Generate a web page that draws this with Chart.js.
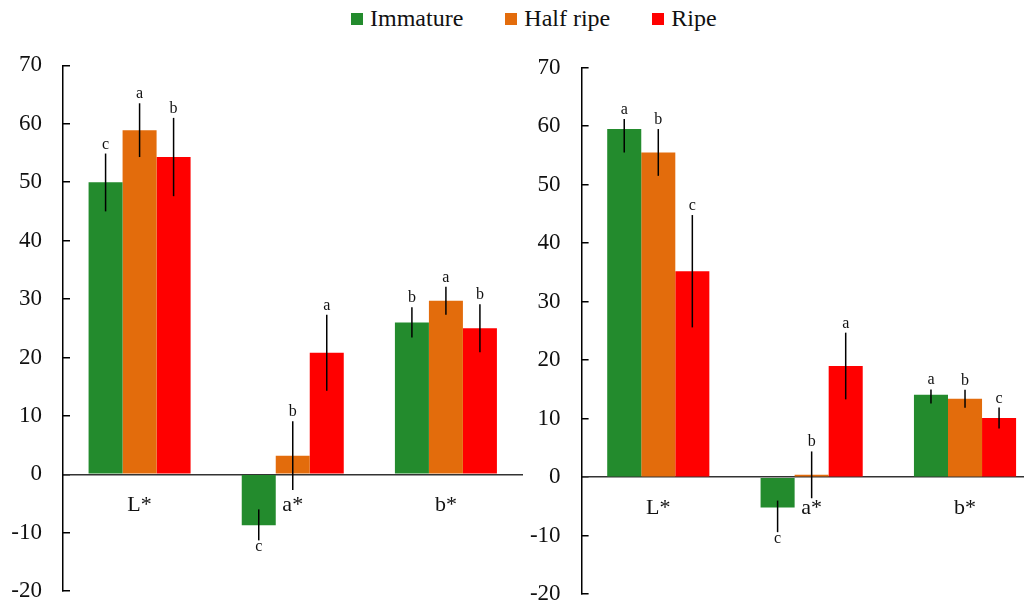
<!DOCTYPE html>
<html>
<head>
<meta charset="utf-8">
<script src="https://cdn.jsdelivr.net/npm/chart.js@4/dist/chart.umd.min.js"></script>
<style>
  html, body { margin:0; padding:0; background:#fff; width:1024px; height:604px; overflow:hidden; position:relative; }
  canvas { position:absolute; top:0; }
  #legend { position:absolute; left:351px; top:5px; display:flex; align-items:center; gap:42px;
            font-family:"Liberation Serif","Times New Roman",serif; font-size:24px; color:#111; }
  .item { display:flex; align-items:center; }
  .box { width:12px; height:12px; margin-right:7px; }
</style>
</head>
<body>
<div id="legend"></div>
<canvas id="left" width="540" height="633" style="left:0px"></canvas>
<canvas id="right" width="540" height="636" style="left:520px"></canvas>
<script>
// ---- data ----
const categories = ['L*', 'a*', 'b*'];
const seriesNames = ['Immature', 'Half ripe', 'Ripe'];
const seriesColors = ['#238B2D', '#E36C0C', '#FF0000'];
const yMin = -20, yMax = 70, yStep = 10;

// left panel
const leftImmature = [50.0, -8.7, 26.0];
const leftHalfRipe = [58.9, 3.2, 29.7];
const leftRipe = [54.3, 20.8, 25.0];
const leftImmatureErrUp = [4.9, 2.7, 2.6];
const leftImmatureErrDown = [5.0, 2.6, 2.6];
const leftHalfRipeErr = [4.6, 5.9, 2.4];
const leftRipeErr = [6.7, 6.5, 4.1];
const leftImmatureLetters = ['c', 'c', 'b'];
const leftHalfRipeLetters = ['a', 'b', 'a'];
const leftRipeLetters = ['b', 'a', 'b'];

// right panel
const rightImmature = [59.5, -5.2, 14.1];
const rightHalfRipe = [55.5, 0.4, 13.4];
const rightRipe = [35.2, 19.0, 10.1];
const rightImmatureErrUp = [1.7, 1.2, 0.9];
const rightImmatureErrDown = [4.0, 4.2, 1.5];
const rightHalfRipeErr = [4.0, 4.0, 1.55];
const rightRipeErr = [9.6, 5.7, 1.8];
const rightImmatureLetters = ['a', 'c', 'a'];
const rightHalfRipeLetters = ['b', 'b', 'b'];
const rightRipeLetters = ['c', 'a', 'c'];

// ---- legend (HTML) ----
const legendEl = document.getElementById('legend');
seriesNames.forEach((n, i) => {
  const it = document.createElement('div'); it.className = 'item';
  const b = document.createElement('div'); b.className = 'box'; b.style.background = seriesColors[i];
  const t = document.createElement('span'); t.textContent = n;
  it.appendChild(b); it.appendChild(t); legendEl.appendChild(it);
});

const SERIF = '"Liberation Serif","Times New Roman",serif';

const errorPlugin = {
  id: 'errbars',
  afterDatasetsDraw(chart) {
    const ctx = chart.ctx;
    const ys = chart.scales.y;
    ctx.save();
    chart.data.datasets.forEach((ds, i) => {
      const meta = chart.getDatasetMeta(i);
      meta.data.forEach((bar, j) => {
        const v = ds.data[j];
        const top = ys.getPixelForValue(v + ds.errUp[j]);
        const bot = ys.getPixelForValue(v - ds.errDown[j]);
        ctx.strokeStyle = '#000';
        ctx.lineWidth = 1.5;
        ctx.beginPath();
        ctx.moveTo(bar.x, top);
        ctx.lineTo(bar.x, bot);
        ctx.stroke();
        ctx.fillStyle = '#111';
        ctx.font = '16px ' + SERIF;
        ctx.textAlign = 'center';
        ctx.textBaseline = 'alphabetic';
        if (v < 0) ctx.fillText(ds.letters[j], bar.x, bot + 11);
        else ctx.fillText(ds.letters[j], bar.x, top - 5);
      });
    });
    ctx.restore();
  }
};

function makeChart(id, vals, errUps, errDowns, letters, axisWidth, pad) {
  const datasets = vals.map((v, i) => ({
    label: seriesNames[i],
    data: v,
    backgroundColor: seriesColors[i],
    borderWidth: 0,
    categoryPercentage: 0.666,
    barPercentage: 1.0,
    errUp: errUps[i],
    errDown: errDowns[i],
    letters: letters[i]
  }));
  return new Chart(document.getElementById(id), {
    type: 'bar',
    data: { labels: categories, datasets },
    options: {
      responsive: false,
      animation: false,
      devicePixelRatio: 1,
      layout: { padding: pad },
      plugins: { legend: { display: false }, tooltip: { enabled: false } },
      scales: {
        x: {
          position: { y: 0 },
          afterFit: s => { s.height = 0; },
          grid: { display: false, drawTicks: false },
          border: { display: true, color: '#333', width: 1.5 },
          ticks: { padding: 18, color: '#111', font: { family: SERIF, size: 22 } }
        },
        y: {
          min: yMin, max: yMax,
          afterFit: s => { s.width = axisWidth; },
          grid: { display: true, drawOnChartArea: false, drawTicks: true, tickLength: -7, color: '#000', lineWidth: 1.5 },
          border: { display: true, color: '#000', width: 1.5 },
          ticks: { stepSize: yStep, padding: 28, color: '#111', font: { family: SERIF, size: 23 } }
        }
      }
    },
    plugins: [errorPlugin]
  });
}

makeChart('left',
  [leftImmature, leftHalfRipe, leftRipe],
  [leftImmatureErrUp, leftHalfRipeErr, leftRipeErr],
  [leftImmatureErrDown, leftHalfRipeErr, leftRipeErr],
  [leftImmatureLetters, leftHalfRipeLetters, leftRipeLetters],
  63, { top: 65.3, right: 17.5, bottom: 0, left: 0 });

makeChart('right',
  [rightImmature, rightHalfRipe, rightRipe],
  [rightImmatureErrUp, rightHalfRipeErr, rightRipeErr],
  [rightImmatureErrDown, rightHalfRipeErr, rightRipeErr],
  [rightImmatureLetters, rightHalfRipeLetters, rightRipeLetters],
  61.6, { top: 67.6, right: 18.3, bottom: 0, left: 0 });
</script>
</body>
</html>
